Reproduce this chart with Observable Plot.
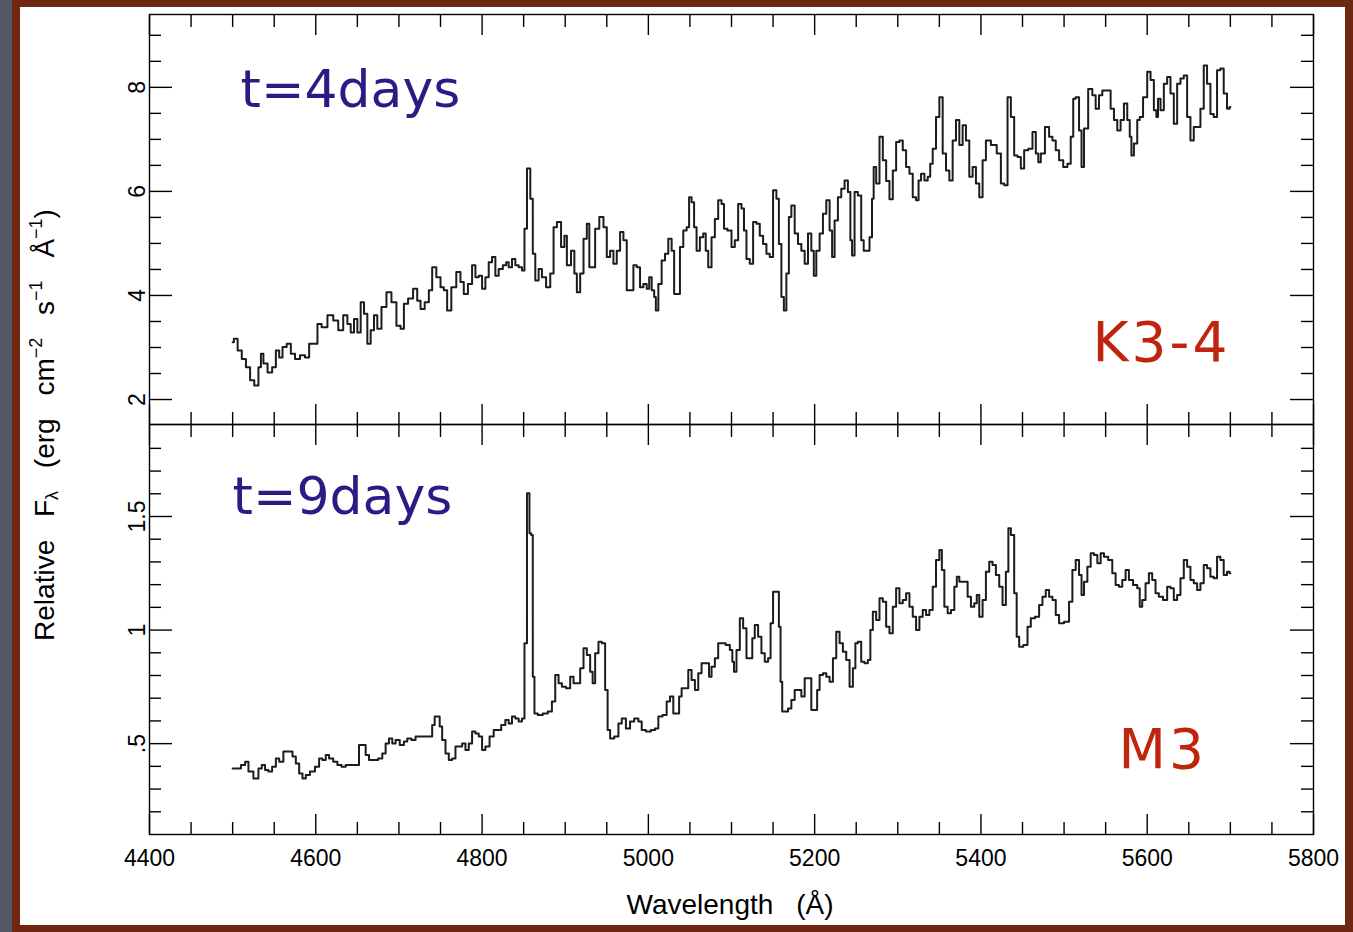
<!DOCTYPE html>
<html>
<head>
<meta charset="utf-8">
<script src="https://cdn.jsdelivr.net/npm/d3@7"></script>
<script src="https://cdn.jsdelivr.net/npm/@observablehq/plot@0.6"></script>
<style>
html, body { margin: 0; padding: 0; width: 1353px; height: 932px; overflow: hidden; background: #6e2811; }
#strip { position: absolute; left: 0; top: 0; width: 12px; height: 932px; background: #525866; }
#paper { position: absolute; left: 20px; top: 7px; width: 1325px; height: 918px; background: #ffffff; }
.panel { position: absolute; left: 0; }
.panel svg { overflow: visible; }
#ylab { position: absolute; left: 45px; top: 425px; transform: translate(-50%, -50%) rotate(-90deg);
  white-space: nowrap; font-family: "Liberation Sans", Arial, sans-serif; font-size: 28px; word-spacing: 15px; color: #000; }
#ylab sup { font-size: 18px; vertical-align: 12px; line-height: 0; word-spacing: 0; }
#ylab sub { font-size: 18px; vertical-align: -4px; line-height: 0; }
#xlab { position: absolute; left: 730px; top: 905px; transform: translate(-50%, -50%);
  white-space: nowrap; font-family: "Liberation Sans", Arial, sans-serif; font-size: 28px; word-spacing: 15px; color: #000; }
g[fill="#c0240c"] text { letter-spacing: 3px; }
</style>
</head>
<body>
<div id="strip"></div>
<div id="paper"></div>
<div id="top" class="panel" style="top:0px"></div>
<div id="bot" class="panel" style="top:424px"></div>
<div id="ylab">Relative F<sub>λ</sub> (erg cm<sup>−2</sup> s<sup>−1</sup> Å<sup>−1</sup>)</div>
<div id="xlab">Wavelength (Å)</div>
<script>
// ---------- data: t=4days (K3-4) spectrum ----------
const topWave = [4500,4503,4509,4513,4519,4523,4529,4533,4535,4539,4545,4550,4554,4558,4562,4568,4572,4578,4584,4590,
4594,4600,4604,4610,4618,4624,4630,4636,4640,4644,4648,4652,4656,4660,4664,4668,4672,4676,4682,4688,
4694,4700,4704,4708,4714,4720,4724,4728,4734,4738,4742,4748,4752,4756,4760,4766,4772,4776,4780,4786,
4790,4794,4798,4802,4806,4810,4814,4818,4822,4828,4830,4834,4838,4842,4846,4850,4852,4856,4860,4862,
4866,4870,4874,4880,4884,4888,4892,4898,4900,4904,4910,4912,4916,4920,4924,4928,4930,4934,4938,4944,
4948,4952,4956,4960,4964,4968,4972,4976,4980,4984,4988,4992,4996,5000,5002,5006,5008,5010,5014,5018,
5022,5026,5030,5032,5036,5040,5044,5048,5050,5054,5056,5060,5064,5068,5070,5074,5078,5082,5086,5090,
5092,5098,5102,5106,5110,5114,5116,5120,5124,5128,5132,5136,5140,5144,5148,5152,5156,5158,5162,5164,
5168,5170,5174,5178,5182,5186,5190,5194,5198,5200,5204,5208,5212,5216,5220,5222,5226,5230,5234,5238,
5242,5244,5246,5250,5254,5258,5260,5264,5268,5270,5272,5276,5280,5284,5288,5292,5296,5300,5304,5308,
5312,5316,5320,5324,5326,5330,5334,5338,5340,5344,5348,5352,5356,5360,5364,5368,5372,5376,5380,5384,
5388,5392,5396,5400,5404,5408,5416,5422,5426,5430,5434,5438,5442,5446,5450,5454,5460,5464,5468,5470,
5474,5480,5484,5488,5492,5496,5502,5506,5510,5512,5516,5520,5522,5526,5532,5536,5540,5544,5548,5554,
5558,5562,5566,5570,5574,5578,5580,5582,5586,5590,5592,5598,5602,5606,5610,5612,5614,5618,5622,5626,
5630,5634,5638,5642,5646,5650,5654,5658,5662,5666,5670,5674,5678,5682,5686,5690,5694,5698,5700];
const topFlux = [3.10,3.17,2.94,2.78,2.62,2.37,2.27,2.62,2.88,2.69,2.52,2.62,2.94,2.81,3.01,3.07,2.88,2.78,2.85,2.81,
3.07,3.07,3.45,3.39,3.62,3.52,3.33,3.62,3.45,3.29,3.55,3.29,3.87,3.65,3.07,3.33,3.62,3.36,3.78,4.06,
3.87,3.42,3.36,3.84,3.94,4.13,3.90,3.74,3.87,4.10,4.54,4.35,4.16,4.10,3.71,4.16,4.45,4.26,4.03,4.22,
4.58,4.35,4.38,4.13,4.35,4.64,4.74,4.38,4.51,4.58,4.64,4.54,4.70,4.58,4.54,4.48,5.28,6.44,5.86,4.80,
4.29,4.51,4.35,4.16,4.42,5.31,5.41,4.93,5.15,4.58,4.86,4.42,4.06,4.42,5.09,5.38,4.54,4.54,5.28,5.51,
5.31,4.74,4.86,4.61,4.86,5.22,5.06,4.10,4.10,4.58,4.54,4.16,4.22,4.13,4.35,4.10,3.97,3.71,4.22,4.67,
4.80,5.09,4.86,4.03,4.03,4.93,5.25,5.31,5.89,5.79,5.31,4.86,5.12,5.19,4.86,4.54,5.12,5.47,5.83,5.76,
5.28,5.25,4.93,5.06,5.76,5.67,5.25,4.70,4.61,5.41,5.38,5.15,4.99,4.80,4.74,6.02,5.86,4.99,3.97,3.71,
4.42,5.51,5.73,5.19,4.99,4.86,4.61,5.19,4.86,4.38,4.86,5.19,5.57,5.83,5.25,4.74,5.44,5.89,6.05,6.21,
5.99,5.06,4.77,5.99,5.92,5.06,4.86,4.86,5.12,5.86,6.47,6.15,7.05,6.60,6.20,5.85,6.40,6.95,6.98,6.79,
6.47,6.34,5.89,5.83,6.21,6.34,6.21,6.28,6.53,6.82,7.43,7.81,6.73,6.40,6.21,6.98,7.37,6.89,7.27,6.98,
6.28,6.47,6.15,5.89,6.60,6.98,6.89,6.73,6.15,6.12,7.81,7.43,6.69,6.66,6.44,6.79,6.82,7.14,6.73,6.56,
6.73,7.24,7.05,6.98,6.79,6.60,6.47,6.53,7.05,7.78,7.81,7.17,6.47,7.21,7.97,7.85,7.59,7.85,7.94,7.94,
7.59,7.37,7.17,7.37,7.69,7.37,7.05,6.69,6.92,7.37,7.43,7.81,8.30,8.14,7.56,7.43,7.78,7.56,8.07,8.20,
7.88,7.30,8.07,8.17,8.23,7.43,6.98,7.24,7.24,7.59,8.42,8.07,7.49,7.43,8.33,8.36,7.88,7.59,7.62];

// ---------- data: t=9days (M3) spectrum ----------
const botWave = [4500,4507,4513,4517,4521,4529,4533,4537,4541,4545,4550,4554,4558,4564,4570,4574,4578,4582,4586,4590,
4596,4602,4606,4610,4614,4618,4624,4628,4634,4638,4644,4650,4654,4658,4662,4666,4672,4678,4682,4686,
4690,4694,4698,4704,4708,4712,4718,4722,4728,4732,4738,4742,4744,4748,4750,4754,4758,4762,4766,4770,
4774,4778,4782,4786,4790,4794,4798,4802,4806,4812,4816,4820,4826,4830,4834,4838,4842,4846,4850,4852,
4856,4858,4860,4862,4864,4870,4876,4882,4886,4890,4894,4898,4904,4908,4912,4916,4920,4924,4928,4932,
4934,4938,4942,4946,4950,4952,4956,4962,4966,4970,4976,4980,4986,4990,4994,5000,5006,5010,5014,5020,
5024,5028,5032,5036,5038,5042,5046,5050,5054,5058,5062,5066,5072,5074,5078,5082,5086,5090,5096,5100,
5102,5104,5108,5112,5116,5120,5124,5126,5130,5134,5138,5142,5146,5148,5152,5156,5158,5160,5162,5166,
5170,5174,5178,5182,5186,5190,5194,5198,5202,5204,5208,5212,5216,5220,5224,5228,5232,5236,5240,5244,
5248,5250,5254,5258,5262,5266,5268,5272,5276,5280,5284,5288,5292,5296,5300,5304,5308,5312,5316,5320,
5324,5328,5332,5336,5340,5344,5348,5352,5354,5358,5362,5366,5370,5372,5376,5382,5386,5390,5394,5396,
5400,5404,5408,5412,5416,5420,5424,5428,5432,5434,5438,5442,5444,5448,5454,5458,5462,5468,5472,5476,
5480,5484,5488,5492,5496,5504,5508,5512,5516,5520,5522,5526,5530,5534,5538,5542,5546,5550,5556,5560,
5564,5568,5572,5576,5580,5586,5590,5592,5596,5600,5604,5608,5612,5616,5622,5626,5630,5634,5638,5642,
5646,5650,5654,5658,5662,5666,5670,5674,5678,5682,5686,5690,5694,5698,5700];
const botFlux = [0.391,0.391,0.406,0.420,0.377,0.347,0.391,0.406,0.384,0.377,0.398,0.435,0.420,0.465,0.465,0.443,0.413,0.369,0.347,0.362,
0.377,0.398,0.435,0.428,0.450,0.435,0.420,0.406,0.398,0.406,0.406,0.406,0.494,0.494,0.450,0.428,0.428,0.435,0.457,0.501,
0.523,0.501,0.516,0.494,0.509,0.523,0.516,0.531,0.531,0.531,0.531,0.582,0.619,0.619,0.575,0.516,0.457,0.428,0.435,0.487,
0.487,0.501,0.472,0.501,0.553,0.545,0.531,0.472,0.487,0.531,0.560,0.560,0.582,0.604,0.589,0.619,0.611,0.597,0.611,0.942,
1.602,1.426,1.419,0.795,0.633,0.626,0.633,0.641,0.685,0.802,0.766,0.751,0.744,0.795,0.766,0.766,0.832,0.920,0.890,0.817,
0.766,0.898,0.949,0.942,0.736,0.560,0.523,0.531,0.589,0.611,0.567,0.597,0.611,0.597,0.560,0.553,0.560,0.567,0.619,0.626,
0.685,0.707,0.633,0.633,0.707,0.744,0.744,0.824,0.780,0.736,0.810,0.854,0.854,0.795,0.839,0.876,0.942,0.942,0.934,0.912,
0.861,0.817,0.912,1.052,1.008,0.876,0.876,0.964,1.022,0.971,0.898,0.861,0.876,1.030,1.169,1.169,1.015,0.773,0.641,0.641,
0.655,0.692,0.736,0.736,0.707,0.788,0.788,0.648,0.648,0.736,0.802,0.810,0.795,0.773,0.876,0.993,0.942,0.905,0.868,0.751,
0.832,0.942,0.949,0.861,0.854,0.868,1.000,1.081,1.044,1.140,1.125,1.015,0.986,1.103,1.184,1.118,1.132,1.162,1.103,1.059,
1.000,1.059,1.088,1.066,1.088,1.191,1.308,1.353,1.264,1.103,1.074,1.088,1.191,1.235,1.213,1.213,1.147,1.103,1.118,1.154,
1.059,1.132,1.257,1.301,1.286,1.242,1.191,1.110,1.257,1.448,1.419,1.162,0.971,0.927,0.934,1.015,1.052,1.059,1.110,1.147,
1.176,1.147,1.132,1.066,1.030,1.037,1.125,1.264,1.308,1.242,1.154,1.213,1.279,1.338,1.330,1.294,1.338,1.323,1.308,1.250,
1.198,1.191,1.220,1.264,1.220,1.198,1.184,1.103,1.132,1.206,1.250,1.220,1.162,1.147,1.132,1.191,1.184,1.132,1.154,1.228,
1.308,1.279,1.220,1.206,1.176,1.206,1.286,1.272,1.235,1.228,1.323,1.308,1.242,1.257,1.250];

// ---------- axes: ticks and labels ----------
const xMajor = [4400, 4600, 4800, 5000, 5200, 5400, 5600, 5800];
const xMinor = [4450,4500,4550,4650,4700,4750,4850,4900,4950,5050,5100,5150,5250,5300,5350,5450,5500,5550,5650,5700,5750];
const xTickText = ["4400","4600","4800","5000","5200","5400","5600","5800"];
const topMajor = [2, 4, 6, 8];
const topMinor = [2.5,3,3.5,4.5,5,5.5,6.5,7,7.5,8.5,9];
const topTickText = ["2","4","6","8"];
const botMajor = [0.5, 1, 1.5];
const botMinor = [0.2,0.3,0.4,0.6,0.7,0.8,0.9,1.1,1.2,1.3,1.4,1.6,1.7,1.8];
const botTickText = [".5","1","1.5"];

const topLabel = "t=4days", topType = "K3-4";
const botLabel = "t=9days", botType = "M3";

const topData = topWave.map((w, i) => ({w, f: topFlux[i]}));
const botData = botWave.map((w, i) => ({w, f: botFlux[i]}));

const tickFont = '"Liberation Sans", Arial, sans-serif';
const annFont = '"Comic Sans MS", "DejaVu Sans", sans-serif';
const blank = () => "";
const tw = 1.4;

function tickMarks(yMajor, yMinor) {
  return [
    Plot.axisX(xMajor, {anchor: "top", tickSize: -20, tickFormat: blank, label: null, strokeWidth: tw}),
    Plot.axisX(xMinor, {anchor: "top", tickSize: -12, tickFormat: blank, label: null, strokeWidth: tw}),
    Plot.axisX(xMajor, {anchor: "bottom", tickSize: -20, tickFormat: blank, label: null, strokeWidth: tw}),
    Plot.axisX(xMinor, {anchor: "bottom", tickSize: -12, tickFormat: blank, label: null, strokeWidth: tw}),
    Plot.axisY(yMajor, {anchor: "left", tickSize: -23, tickFormat: blank, label: null, strokeWidth: tw}),
    Plot.axisY(yMinor, {anchor: "left", tickSize: -12, tickFormat: blank, label: null, strokeWidth: tw}),
    Plot.axisY(yMajor, {anchor: "right", tickSize: -24, tickFormat: blank, label: null, strokeWidth: tw}),
    Plot.axisY(yMinor, {anchor: "right", tickSize: -13, tickFormat: blank, label: null, strokeWidth: tw})
  ];
}

function yLabels(yMajor, texts) {
  const m = new Map(yMajor.map((v, i) => [v, texts[i]]));
  return Plot.axisY(yMajor, {anchor: "left", tickSize: 0, tickPadding: 5, tickRotate: -90,
    tickFormat: d => m.get(d), label: null, fontSize: 23, fontFamily: tickFont});
}

const common = {
  width: 1353,
  marginLeft: 149, marginRight: 40,
  style: {background: "transparent", overflow: "visible", color: "#000", fontFamily: tickFont, fontSize: "23px"},
  x: {domain: [4400, 5800]}
};

const topPlot = Plot.plot({
  ...common,
  height: 424, marginTop: 14, marginBottom: 0,
  y: {domain: [1.52, 9.40]},
  marks: [
    Plot.line(topData, {x: "w", y: "f", curve: "step", stroke: "#1c1c1c", strokeWidth: 2}),
    Plot.frame({stroke: "#000", strokeWidth: 1.4}),
    ...tickMarks(topMajor, topMinor),
    yLabels(topMajor, topTickText),
    Plot.text([topLabel], {text: d => d, frameAnchor: "top-left", dx: 91, dy: 76, textAnchor: "start", lineAnchor: "middle",
      fontSize: 52, fontFamily: annFont, fill: "#2c1b84"}),
    Plot.text([topType], {text: d => d, frameAnchor: "bottom-left", dx: 943, dy: -81, textAnchor: "start", lineAnchor: "middle",
      fontSize: 55, fontFamily: annFont, fill: "#c0240c"})
  ]
});

const xm = new Map(xMajor.map((v, i) => [v, xTickText[i]]));
const botPlot = Plot.plot({
  ...common,
  height: 508, marginTop: 0, marginBottom: 98,
  y: {domain: [0.10, 1.905]},
  marks: [
    Plot.line(botData, {x: "w", y: "f", curve: "step", stroke: "#1c1c1c", strokeWidth: 2}),
    Plot.frame({stroke: "#000", strokeWidth: 1.4}),
    ...tickMarks(botMajor, botMinor),
    yLabels(botMajor, botTickText),
    Plot.axisX(xMajor, {anchor: "bottom", tickSize: 0, tickPadding: 15, tickFormat: d => xm.get(d), label: null,
      fontSize: 23, fontFamily: tickFont}),
    Plot.text([botLabel], {text: d => d, frameAnchor: "top-left", dx: 83, dy: 73, textAnchor: "start", lineAnchor: "middle",
      fontSize: 52, fontFamily: annFont, fill: "#2c1b84"}),
    Plot.text([botType], {text: d => d, frameAnchor: "bottom-left", dx: 969, dy: -84, textAnchor: "start", lineAnchor: "middle",
      fontSize: 55, fontFamily: annFont, fill: "#c0240c"})
  ]
});

document.getElementById("top").appendChild(topPlot);
document.getElementById("bot").appendChild(botPlot);
</script>
</body>
</html>
